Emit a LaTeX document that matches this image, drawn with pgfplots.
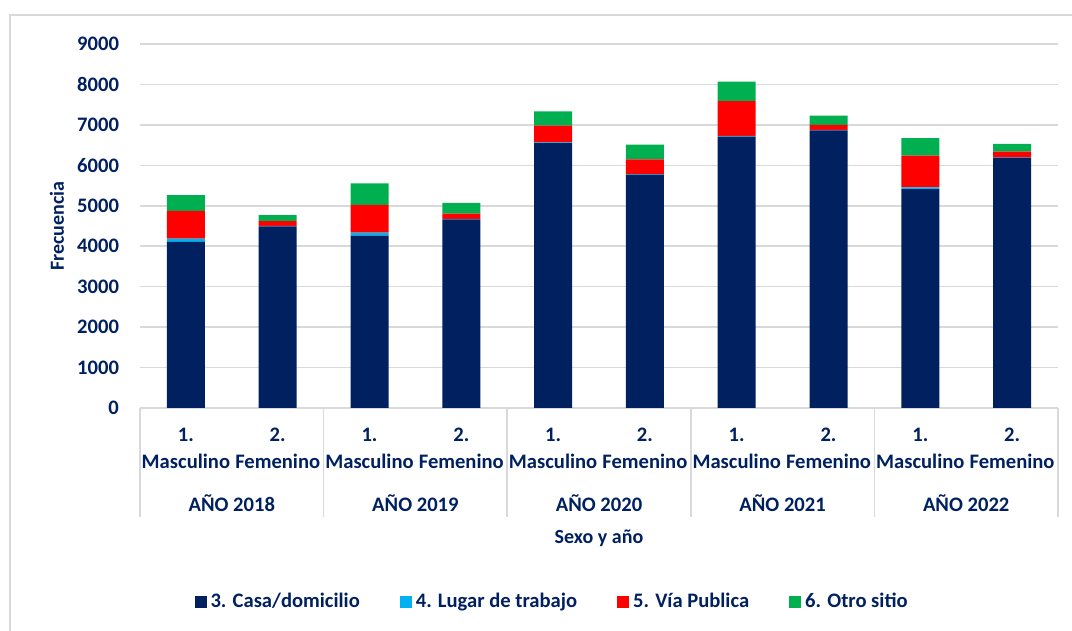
\documentclass[border=0pt]{standalone}
\usepackage{fontspec}
\setmainfont{Carlito}
\usepackage{pgfplots}
\pgfplotsset{compat=1.18}

\definecolor{navy}{HTML}{002060}
\definecolor{casa}{HTML}{002060}
\definecolor{lugar}{HTML}{00B0F0}
\definecolor{via}{HTML}{FF0000}
\definecolor{otro}{HTML}{00B050}
\definecolor{gridc}{HTML}{D9D9D9}

\begin{document}
\begin{tikzpicture}
\useasboundingbox (0,0) rectangle (536pt,315.5pt);
\draw[gridc, line width=0.8pt] (5pt,0) -- (5pt,308pt) -- (536pt,308pt);
\begin{axis}[
  at={(70pt,111.5pt)}, anchor=south west,
  scale only axis,
  width=459pt, height=182pt,
  ybar stacked,
  bar width=19pt,
  xmin=-0.5, xmax=9.5,
  ymin=0, ymax=9000,
  xtick={0,...,9},
  xticklabels={{1.\\Masculino},{2.\\Femenino},{1.\\Masculino},{2.\\Femenino},{1.\\Masculino},{2.\\Femenino},{1.\\Masculino},{2.\\Femenino},{1.\\Masculino},{2.\\Femenino}},
  xticklabel style={align=center, font=\fontsize{10.3}{13.5}\selectfont\bfseries, text=navy, yshift=-6.5pt},
  ytick={0,1000,...,9000},
  yticklabel style={font=\fontsize{10.3}{12}\selectfont\bfseries, text=navy, xshift=-7pt},
  /pgf/number format/assume math mode=true,
  /pgf/number format/set thousands separator={},
  major tick length=0pt,
  ymajorgrids,
  grid style={gridc, line width=0.8pt},
  axis line style={draw=none},
  clip=false,
  every axis y label/.style={at={(rel axis cs:0,0.5)}, rotate=90, anchor=center, yshift=41.5pt},
  ylabel={\fontsize{10}{12}\selectfont\bfseries Frecuencia},
  ylabel style={text=navy},
  legend columns=4,
  legend style={at={(rel axis cs:0.45,-0.533)}, anchor=center, draw=none,
    font=\fontsize{10.3}{12}\selectfont\bfseries, text=navy,
    /tikz/every even column/.append style={column sep=18pt}},
  legend image code/.code={\fill[#1] (0pt,-3pt) rectangle (6pt,3pt);},
]
\addplot[fill=casa, draw=none] coordinates {(0,4110) (1,4490) (2,4260) (3,4665) (4,6555) (5,5770) (6,6710) (7,6865) (8,5410) (9,6190)};
\addlegendentry{3. Casa/domicilio}
\addplot[fill=lugar, draw=none] coordinates {(0,75) (1,12) (2,75) (3,10) (4,15) (5,15) (6,20) (7,10) (8,45) (9,10)};
\addlegendentry{4. Lugar de trabajo}
\addplot[fill=via, draw=none] coordinates {(0,690) (1,120) (2,685) (3,130) (4,410) (5,365) (6,855) (7,125) (8,785) (9,140)};
\addlegendentry{5. Vía Publica}
\addplot[fill=otro, draw=none] coordinates {(0,390) (1,150) (2,535) (3,265) (4,355) (5,360) (6,485) (7,230) (8,430) (9,190)};
\addlegendentry{6. Otro sitio}

% category axis separators
\pgfplotsinvokeforeach{-0.5,1.5,3.5,5.5,7.5,9.5}{
  \draw[gridc, line width=0.8pt] (axis cs:#1,0) -- ([yshift=-54.5pt]axis cs:#1,0);
}
\draw[gridc, line width=0.8pt] (axis cs:-0.5,0) -- (axis cs:9.5,0);
\node[text=navy, font=\fontsize{10.3}{12}\selectfont\bfseries] at ([yshift=-47.5pt]axis cs:0.5,0) {AÑO 2018};
\node[text=navy, font=\fontsize{10.3}{12}\selectfont\bfseries] at ([yshift=-47.5pt]axis cs:2.5,0) {AÑO 2019};
\node[text=navy, font=\fontsize{10.3}{12}\selectfont\bfseries] at ([yshift=-47.5pt]axis cs:4.5,0) {AÑO 2020};
\node[text=navy, font=\fontsize{10.3}{12}\selectfont\bfseries] at ([yshift=-47.5pt]axis cs:6.5,0) {AÑO 2021};
\node[text=navy, font=\fontsize{10.3}{12}\selectfont\bfseries] at ([yshift=-47.5pt]axis cs:8.5,0) {AÑO 2022};
\node[text=navy, font=\fontsize{10}{12}\selectfont\bfseries] at ([yshift=-65pt]axis cs:4.5,0) {Sexo y año};
\end{axis}
\end{tikzpicture}
\end{document}
